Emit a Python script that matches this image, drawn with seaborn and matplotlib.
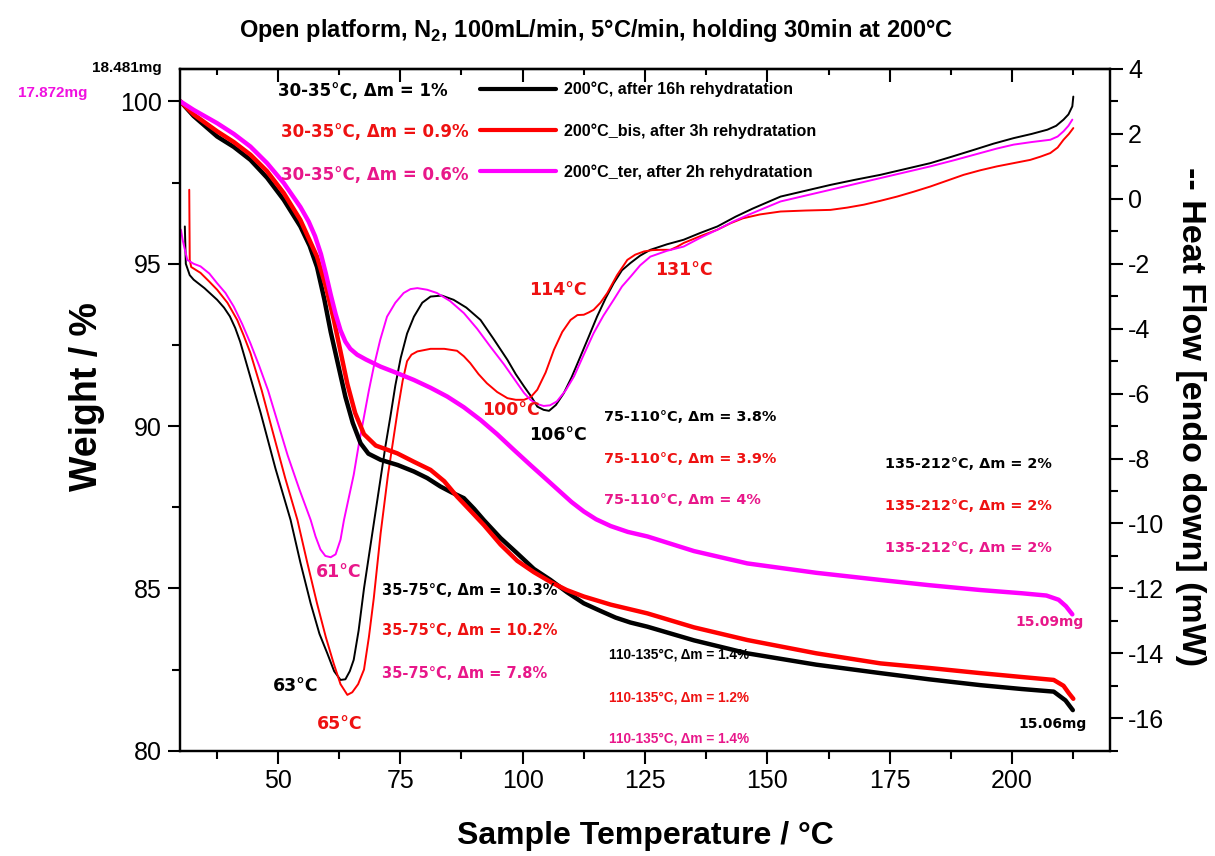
import matplotlib
matplotlib.use("Agg")
import matplotlib.pyplot as plt
import seaborn as sns
import pandas as pd
from matplotlib.lines import Line2D
from matplotlib.ticker import MultipleLocator

# ---------------- data ----------------
runs = ["200°C, after 16h rehydratation",
        "200°C_bis, after 3h rehydratation",
        "200°C_ter, after 2h rehydratation"]
line_colors = ["#000000", "#FF0000", "#FF00FF"]
text_colors = ["#000000", "#EE1111", "#E8178A"]

# weight (%) curves
w16_T = [30.1, 32.8, 37.6, 41.0, 44.4, 47.8, 51.2, 54.6, 56.5, 58.0, 59.5, 60.8, 62.3, 63.8, 65.3,
         66.9, 68.5, 71.0, 74.5, 77.8, 80.5, 83.2, 85.6, 88.0, 90.1, 92.1, 95.5, 98.9, 102.3, 105.7,
         109.1, 112.5, 116.0, 119.0, 122.0, 125.5, 135.0, 145.9, 160.0, 173.1, 183.0, 193.5, 202.0,
         208.5, 210.9, 212.4]
w16_W = [100.0, 99.55, 98.92, 98.6, 98.2, 97.65, 96.97, 96.15, 95.55, 94.9, 93.9, 92.9, 91.9, 90.9,
         90.1, 89.47, 89.15, 88.96, 88.8, 88.6, 88.4, 88.14, 87.95, 87.78, 87.45, 87.1, 86.55, 86.08,
         85.6, 85.26, 84.88, 84.54, 84.3, 84.1, 83.95, 83.82, 83.4, 83.0, 82.65, 82.39, 82.2, 82.02,
         81.9, 81.82, 81.55, 81.25]
w3_T = [30.1, 32.8, 37.6, 41.0, 44.4, 47.8, 51.2, 54.6, 58.0, 59.8, 61.4, 62.8, 64.2, 65.8, 67.6,
        70.0, 74.4, 77.8, 81.2, 84.0, 86.6, 89.3, 92.1, 95.5, 98.9, 102.3, 105.7, 109.0, 112.5,
        118.0, 125.5, 135.0, 145.9, 160.0, 173.1, 183.0, 193.5, 202.0, 208.5, 210.5, 211.6, 212.5]
w3_W = [100.0, 99.6, 99.08, 98.75, 98.36, 97.85, 97.18, 96.35, 95.22, 94.3, 93.3, 92.3, 91.3, 90.4,
        89.75, 89.4, 89.16, 88.9, 88.65, 88.3, 87.83, 87.4, 86.95, 86.35, 85.85, 85.5, 85.2, 84.95,
        84.75, 84.5, 84.23, 83.8, 83.41, 83.0, 82.69, 82.55, 82.39, 82.27, 82.18, 82.0, 81.77, 81.6]
w2_T = [30.1, 32.8, 37.6, 41.0, 44.4, 47.8, 51.2, 54.6, 56.3, 57.6, 58.8, 59.8, 60.8, 61.8, 62.8,
        63.8, 64.8, 66.2, 68.0, 71.0, 74.4, 77.8, 81.2, 84.6, 88.0, 91.4, 94.8, 98.2, 101.6, 105.0,
        107.5, 110.0, 112.5, 115.0, 118.0, 121.5, 125.5, 135.0, 145.9, 160.0, 173.1, 183.0, 193.5,
        202.0, 207.0, 209.5, 211.0, 212.3]
w2_W = [100.0, 99.74, 99.33, 99.0, 98.61, 98.1, 97.49, 96.75, 96.3, 95.85, 95.3, 94.7, 94.05,
        93.45, 92.95, 92.6, 92.38, 92.2, 92.05, 91.83, 91.63, 91.42, 91.18, 90.91, 90.58, 90.19,
        89.75, 89.27, 88.8, 88.34, 88.0, 87.66, 87.37, 87.13, 86.92, 86.74, 86.6, 86.15, 85.77,
        85.48, 85.26, 85.1, 84.95, 84.85, 84.78, 84.65, 84.45, 84.2]

# heat flow (mW) curves
h16_T = [31.0, 31.2, 32.0, 32.8, 35.0, 37.6, 39.0, 40.2, 41.3, 42.3, 43.3, 46.5, 49.5, 52.6, 54.6,
         56.7, 58.5, 60.1, 61.5, 62.8, 63.8, 64.7, 65.5, 66.5, 67.6, 68.6, 69.6, 71.0, 72.0, 73.0,
         74.0, 75.1, 76.4, 77.8, 79.5, 81.2, 83.5, 85.9, 88.5, 91.4, 94.0, 96.9, 98.6, 100.3, 101.8,
         103.0, 104.3, 105.4, 106.8, 108.4, 110.0, 111.8, 113.5, 115.2, 117.0, 118.6, 120.3, 122.0,
         124.0, 126.1, 129.5, 132.9, 136.3, 139.8, 143.5, 147.0, 152.7, 157.8, 162.9, 168.0, 173.1,
         178.2, 183.3, 187.7, 192.2, 196.2, 200.3, 204.0, 207.2, 209.0, 210.5, 211.5, 212.3, 212.5]
h16_H = [-0.85, -2.0, -2.35, -2.49, -2.75, -3.11, -3.35, -3.62, -3.98, -4.4, -4.92, -6.6, -8.3,
         -9.89, -11.2, -12.46, -13.4, -14.0, -14.55, -14.82, -14.8, -14.55, -14.2, -13.3, -12.0,
         -11.0, -10.0, -8.6, -7.6, -6.7, -5.75, -4.9, -4.15, -3.63, -3.2, -3.01, -2.98, -3.11, -3.35,
         -3.73, -4.3, -4.96, -5.4, -5.78, -6.1, -6.40, -6.5, -6.53, -6.35, -5.99, -5.5, -4.86, -4.25,
         -3.63, -3.05, -2.6, -2.2, -1.98, -1.75, -1.57, -1.4, -1.26, -1.05, -0.85, -0.55, -0.3, 0.07,
         0.25, 0.43, 0.59, 0.74, 0.92, 1.1, 1.3, 1.51, 1.7, 1.87, 2.0, 2.13, 2.25, 2.44, 2.6, 2.85,
         3.15]
h3_T = [31.9, 32.0, 32.3, 34.2, 36.0, 37.6, 39.7, 41.7, 43.0, 44.4, 46.7, 49.0, 51.5, 54.0, 56.0,
        58.0, 59.8, 61.4, 62.8, 64.2, 65.2, 66.4, 67.6, 68.6, 69.6, 70.3, 71.0, 72.5, 74.5, 75.5,
        76.4, 77.3, 78.5, 81.2, 84.0, 86.6, 88.0, 89.3, 91.0, 92.7, 94.8, 96.9, 98.6, 100.3, 101.7,
        103.0, 104.7, 106.4, 108.1, 109.8, 111.2, 112.5, 113.5, 114.5, 115.9, 117.3, 119.3, 121.4,
        123.0, 124.8, 126.5, 128.2, 130.2, 131.5, 132.9, 136.3, 139.8, 142.5, 145.0, 148.5, 152.7,
        157.8, 162.9, 166.3, 169.7, 173.1, 176.5, 179.9, 183.3, 186.7, 190.1, 193.5, 196.9, 200.3,
        203.7, 205.8, 207.8, 209.3, 210.5, 211.6, 212.5]
h3_H = [0.28, -1.88, -2.1, -2.28, -2.55, -2.8, -3.2, -3.73, -4.2, -4.75, -5.9, -7.2, -8.6, -9.89,
        -11.2, -12.46, -13.5, -14.31, -14.95, -15.28, -15.2, -14.95, -14.5, -13.5, -12.3, -11.3,
        -10.3, -8.5, -6.5, -5.6, -5.0, -4.8, -4.7, -4.62, -4.62, -4.68, -4.85, -5.06, -5.4, -5.68,
        -5.95, -6.14, -6.19, -6.19, -6.1, -5.88, -5.35, -4.65, -4.1, -3.73, -3.58, -3.57, -3.5,
        -3.42, -3.2, -2.9, -2.35, -1.88, -1.72, -1.62, -1.58, -1.57, -1.57, -1.48, -1.36, -1.15,
        -0.95, -0.75, -0.6, -0.48, -0.39, -0.36, -0.34, -0.27, -0.18, -0.06, 0.07, 0.22, 0.38, 0.56,
        0.74, 0.88, 1.0, 1.1, 1.2, 1.3, 1.41, 1.58, 1.82, 2.0, 2.18]
h2_T = [30.2, 30.6, 31.5, 32.8, 34.2, 36.0, 37.6, 39.3, 41.0, 42.7, 44.4, 46.2, 48.0, 50.0, 52.0,
        54.4, 56.7, 57.7, 58.7, 59.7, 60.8, 61.8, 62.8, 63.5, 64.5, 65.5, 66.5, 67.6, 68.6, 69.6,
        70.9, 72.3, 74.0, 75.7, 77.1, 78.5, 80.5, 82.5, 85.2, 88.0, 90.7, 93.4, 96.2, 98.9, 100.3,
        101.6, 103.0, 104.3, 105.6, 107.0, 108.8, 110.5, 112.5, 114.5, 116.5, 118.6, 120.3, 122.1,
        124.0, 126.1, 129.5, 132.9, 136.3, 139.8, 143.0, 146.0, 149.5, 152.7, 157.8, 162.9, 168.0,
        173.1, 178.2, 183.3, 188.4, 193.5, 196.9, 200.3, 204.0, 207.8, 209.3, 210.5, 211.5, 212.3]
h2_H = [-0.95, -1.3, -1.88, -2.0, -2.08, -2.3, -2.6, -2.9, -3.32, -3.85, -4.45, -5.15, -5.9, -6.9,
        -7.9, -8.95, -9.89, -10.4, -10.8, -11.0, -11.04, -10.95, -10.5, -9.9, -9.2, -8.5, -7.6,
        -6.71, -5.9, -5.17, -4.35, -3.63, -3.2, -2.9, -2.78, -2.75, -2.8, -2.9, -3.15, -3.52, -4.0,
        -4.55, -5.1, -5.68, -5.98, -6.19, -6.32, -6.38, -6.36, -6.24, -5.9, -5.47, -4.8, -4.14,
        -3.6, -3.11, -2.7, -2.39, -2.05, -1.78, -1.6, -1.47, -1.2, -0.95, -0.7, -0.5, -0.28, -0.08,
        0.1, 0.28, 0.46, 0.64, 0.82, 1.0, 1.2, 1.41, 1.55, 1.67, 1.75, 1.82, 1.92, 2.08, 2.25, 2.44]

# annotations: text, temperature, weight-axis value, colour index, size, font
ann_text = ["30-35°C, Δm = 1%", "30-35°C, Δm = 0.9%", "30-35°C, Δm = 0.6%",
            "114°C", "131°C", "100°C", "106°C", "61°C", "63°C", "65°C",
            "35-75°C, Δm = 10.3%", "35-75°C, Δm = 10.2%", "35-75°C, Δm = 7.8%",
            "75-110°C, Δm = 3.8%", "75-110°C, Δm = 3.9%", "75-110°C, Δm = 4%",
            "135-212°C, Δm = 2%", "135-212°C, Δm = 2%", "135-212°C, Δm = 2%",
            "110-135°C, Δm = 1.4%", "110-135°C, Δm = 1.2%", "110-135°C, Δm = 1.4%",
            "15.09mg", "15.06mg"]
ann_T = [50.1, 50.6, 50.6, 101.4, 127.1, 91.75, 101.4, 57.7, 48.9, 58.05,
         71.3, 71.3, 71.3, 116.6, 116.6, 116.6, 174.1, 174.1, 174.1,
         117.6, 117.6, 117.6, 200.7, 201.3]
ann_W = [100.33, 99.07, 97.74, 94.19, 94.8, 90.5, 89.73, 85.49, 81.98, 80.82,
         84.95, 83.69, 82.39, 90.29, 88.99, 87.71, 88.83, 87.54, 86.25,
         82.95, 81.65, 80.39, 83.98, 80.82]
ann_col = [0, 1, 2, 1, 1, 1, 0, 2, 0, 1, 0, 1, 2, 0, 1, 2, 0, 1, 2, 0, 1, 2, 2, 0]
ann_size = [12, 12, 12, 12.5, 12.5, 12.5, 12.5, 12.5, 12.5, 12.5,
            10.5, 10.5, 10.5, 10.4, 10.4, 10.4, 10.4, 10.4, 10.4,
            9.8, 9.8, 9.8, 10, 10]
ann_font = ["DejaVu Sans"] * 19 + ["Liberation Sans"] * 3 + ["DejaVu Sans"] * 2

initial_mass = ["18.481mg", "17.872mg"]

# ---------------- frames ----------------
df_w = pd.concat([
    pd.DataFrame({"T": w16_T, "val": w16_W, "run": runs[0]}),
    pd.DataFrame({"T": w3_T, "val": w3_W, "run": runs[1]}),
    pd.DataFrame({"T": w2_T, "val": w2_W, "run": runs[2]}),
], ignore_index=True)
df_h = pd.concat([
    pd.DataFrame({"T": h16_T, "val": h16_H, "run": runs[0]}),
    pd.DataFrame({"T": h3_T, "val": h3_H, "run": runs[1]}),
    pd.DataFrame({"T": h2_T, "val": h2_H, "run": runs[2]}),
], ignore_index=True)
pal = dict(zip(runs, line_colors))

# ---------------- style ----------------
sns.set_style("ticks")
plt.rcParams["font.family"] = ["Liberation Sans", "DejaVu Sans"]
plt.rcParams["mathtext.fontset"] = "custom"
plt.rcParams["mathtext.rm"] = "Liberation Sans"
plt.rcParams["mathtext.bf"] = "Liberation Sans:bold"
plt.rcParams["axes.unicode_minus"] = False
for k in ["text.color", "axes.labelcolor", "xtick.color", "ytick.color", "axes.edgecolor"]:
    plt.rcParams[k] = "black"

fig = plt.figure(figsize=(12.15, 8.56), dpi=100)
ax = fig.add_subplot(111)
fig.subplots_adjust(left=0.1481, right=0.9136, bottom=0.1230, top=0.9194)
ax2 = ax.twinx()

sns.lineplot(data=df_w, x="T", y="val", hue="run", hue_order=runs, palette=pal,
             ax=ax, linewidth=3.2, legend=False, sort=False, estimator=None)
sns.lineplot(data=df_h, x="T", y="val", hue="run", hue_order=runs, palette=pal,
             ax=ax2, linewidth=1.4, legend=False, sort=False, estimator=None)

ax.set_xlim(30, 220)
ax.set_ylim(80, 101)
ax2.set_ylim(-17, 4)

ax.xaxis.set_minor_locator(MultipleLocator(12.5))
ax.yaxis.set_minor_locator(MultipleLocator(2.5))
ax2.yaxis.set_minor_locator(MultipleLocator(1))

for a in (ax, ax2):
    for s in a.spines.values():
        s.set_visible(True)
        s.set_linewidth(1.6)
        s.set_color("black")
ax.tick_params(axis="both", which="major", direction="out", length=9, width=1.5,
               labelsize=18, pad=4)
ax.tick_params(axis="both", which="minor", direction="out", length=5.5, width=1.5)
ax.tick_params(axis="y", which="both", right=False)
ax2.tick_params(axis="y", which="major", direction="out", length=9, width=1.5,
                labelsize=18, pad=4)
ax2.tick_params(axis="y", which="minor", direction="out", length=5.5, width=1.5)

top = ax.secondary_xaxis("top")
top.xaxis.set_major_locator(MultipleLocator(25))
top.xaxis.set_minor_locator(MultipleLocator(12.5))
top.tick_params(which="major", direction="in", length=9, width=1.5, labeltop=False)
top.tick_params(which="minor", direction="in", length=4, width=1.5)
top.spines["top"].set_linewidth(1.6)

ax.set_xticks([50, 75, 100, 125, 150, 175, 200])
ax.set_yticks([80, 85, 90, 95, 100])
ax2.set_yticks(list(range(-16, 5, 2)))

ax.set_xlabel("Sample Temperature / °C", fontsize=23, fontweight="bold")
ax.xaxis.set_label_coords(0.5, -0.103)
ax.set_ylabel("Weight / %", fontsize=27, fontweight="bold")
ax.yaxis.set_label_coords(-0.081, 0.52)
ax2.set_ylabel("-- Heat Flow [endo down] (mW)", fontsize=24.5, fontweight="bold",
               rotation=270, va="bottom")
ax2.yaxis.set_label_coords(1.070, 0.49)

fig.text(0.491, 0.964, r"Open platform, N$_{\mathbf{2}}$, 100mL/min, 5°C/min, holding 30min at 200°C",
         ha="center", va="center", fontsize=17, fontweight="bold")

# annotations
for t, x, y, c, s, f in zip(ann_text, ann_T, ann_W, ann_col, ann_size, ann_font):
    ax.text(x, y, t, color=text_colors[c], fontsize=s, fontweight="bold",
            family=f, ha="left", va="center", zorder=5)

ax.text(-0.02, 1.002, initial_mass[0], transform=ax.transAxes, ha="right", va="center",
        fontsize=11, fontweight="bold", color="#000000", clip_on=False)
ax.text(-0.100, 0.9643, initial_mass[1], transform=ax.transAxes, ha="right", va="center",
        fontsize=11, fontweight="bold", color="#F010E0", clip_on=False)

handles = [Line2D([], [], color=c, lw=3) for c in line_colors]
ax.legend(handles, runs, loc="upper left", bbox_to_anchor=(0.3226, 0.9815),
          frameon=False, handlelength=4.7, handletextpad=0.5,
          labelspacing=1.6, borderpad=0, borderaxespad=0,
          prop={"weight": "bold", "size": 11.6})

ax.set_zorder(1)
ax2.set_zorder(0)
ax.patch.set_visible(False)

fig.savefig("out.png", dpi=100)
